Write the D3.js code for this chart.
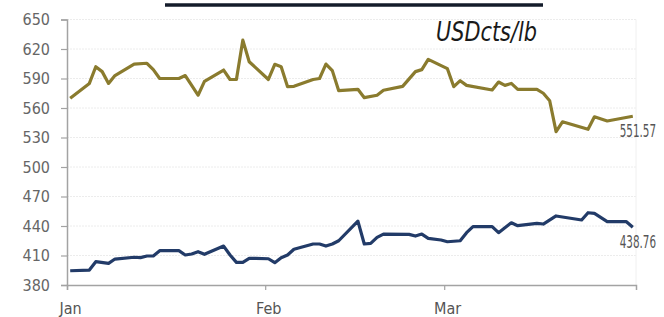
<!DOCTYPE html>
<html>
<head>
<meta charset="utf-8">
<script src="https://cdn.jsdelivr.net/npm/d3@7"></script>
<style>
  body { margin: 0; background: #fff; }
  svg { display: block; }
  text { font-family: "Liberation Sans Narrow", "DejaVu Sans Condensed", sans-serif; }
</style>
</head>
<body>
<svg></svg>
<script>
const WIDTH = 664;
const HEIGHT = 317;

// price series, one point per day (noon stamps)
const upperDates = ['01-01','01-04','01-05','01-06','01-07','01-08','01-11','01-13','01-14','01-15',
  '01-18','01-19','01-20','01-21','01-22','01-25','01-26','01-27','01-28','01-29','01-30',
  '02-01','02-02','02-03','02-04','02-05','02-08','02-09','02-10','02-11','02-12','02-15',
  '02-16','02-18','02-19','02-22','02-24','02-25','02-26','03-01','03-02','03-03','03-04',
  '03-08','03-09','03-10','03-11','03-12','03-15','03-16','03-17','03-18','03-19','03-23',
  '03-24','03-26','03-30'];
const upperValues = [570,585,602,597,585,593,604.7,605.5,599,590,
  590,593,583,573,587,598.6,589,589,629,607,601,
  589,604.4,602,581.7,582,589,590,604.7,598,577.6,579,
  570.5,573,578,582,597,599,609.5,600,581.7,587.8,583,
  578.3,586.4,583,585,579,579,575,567.4,536,546,538.3,
  551,546.8,551.57];

const lowerDates = ['01-01','01-04','01-05','01-07','01-08','01-11','01-12','01-13','01-14','01-15',
  '01-18','01-19','01-20','01-21','01-22','01-25','01-26','01-27','01-28','01-29','01-30',
  '02-01','02-02','02-03','02-04','02-05','02-08','02-09','02-10','02-11','02-12','02-15',
  '02-16','02-17','02-18','02-19','02-23','02-24','02-25','02-26','02-28','03-01','03-03',
  '03-04','03-05','03-08','03-09','03-11','03-12','03-15','03-16','03-18','03-22','03-23',
  '03-24','03-26','03-29','03-30'];
const lowerValues = [394.5,395.2,403.7,402,406.4,408.2,407.8,409.5,409.5,414.9,
  414.9,410.5,411.5,413.9,411.2,419.6,410.5,403,403,407.1,407.1,
  406.7,402.7,407.8,410.5,416.3,421.7,421.7,419.6,421.7,425,445,
  421.7,422.4,428.5,431.8,431.5,429.8,431.8,427.5,425.8,424,425,
  433.2,439.3,439.3,433.2,443.3,440.3,442.7,442,450.2,446.1,453.5,
  452.8,444.4,444.4,438.76];

const yTicks = [380, 410, 440, 470, 500, 530, 560, 590, 620, 650];
const monthTicks = ['2025-01-01', '2025-02-01', '2025-03-01'];
const monthLabels = ['Jan', 'Feb', 'Mar'];
const unitLabel = 'USDcts/lb';

const parseDay = d3.timeParse('%Y-%m-%dT%H:%M');
const parseMonth = d3.timeParse('%Y-%m-%d');

function toPoints(dates, values) {
  return dates.map(function(d, i) {
    return { date: parseDay('2025-' + d + 'T12:00'), value: values[i] };
  });
}
const upper = toPoints(upperDates, upperValues);
const lower = toPoints(lowerDates, lowerValues);

const svg = d3.select('svg')
  .attr('width', WIDTH)
  .attr('height', HEIGHT);

const plotLeft = 67, plotRight = 636, plotTop = 19.5, plotBottom = 285;

const xScale = d3.scaleTime()
  .domain([parseMonth('2025-01-01'), parseMonth('2025-03-31')])
  .range([plotLeft, plotRight]);
const yScale = d3.scaleLinear()
  .domain([380, 650])
  .range([plotBottom, plotTop]);

// dark bar across the top
svg.append('line')
  .attr('x1', 165).attr('x2', 543)
  .attr('y1', 5).attr('y2', 5)
  .attr('stroke', '#141c2b')
  .attr('stroke-width', 3.5);

// horizontal grid
svg.append('g').selectAll('line')
  .data(yTicks.slice(1))
  .enter()
  .append('line')
  .attr('x1', plotLeft).attr('x2', plotRight)
  .attr('y1', function(d) { return yScale(d); })
  .attr('y2', function(d) { return yScale(d); })
  .attr('stroke', '#ececec')
  .attr('stroke-dasharray', '2,1');

// faint right edge
svg.append('line')
  .attr('x1', plotRight).attr('x2', plotRight)
  .attr('y1', plotTop).attr('y2', plotBottom)
  .attr('stroke', '#f0f0f0');

// left axis
const leftAxis = d3.axisLeft(yScale)
  .tickValues(yTicks)
  .tickSize(6)
  .tickPadding(11);
const gy = svg.append('g').attr('id', 'left-axis')
  .attr('transform', 'translate(' + plotLeft + ',0)')
  .call(leftAxis);
gy.select('.domain').attr('stroke', '#a3a3a3').attr('stroke-width', 1.5);
gy.selectAll('.tick line').attr('stroke', '#a3a3a3').attr('stroke-width', 1.2);
gy.selectAll('.tick text')
  .attr('fill', '#666')
  .style('font-size', '16px');

// bottom axis
const bottomAxis = d3.axisBottom(xScale)
  .tickValues(monthTicks.map(parseMonth))
  .tickSize(5)
  .tickFormat(function(d, i) { return monthLabels[i]; });
const gx = svg.append('g').attr('id', 'bottom-axis')
  .attr('transform', 'translate(0,' + plotBottom + ')')
  .call(bottomAxis);
gx.select('.domain').attr('stroke', '#a3a3a3').attr('stroke-width', 1.5);
gx.selectAll('.tick line').attr('stroke', '#a3a3a3').attr('stroke-width', 1.2);
gx.selectAll('.tick text')
  .attr('fill', '#555')
  .attr('dx', 3)
  .attr('y', 18)
  .style('font-size', '16px');

// lines
const line = d3.line()
  .x(function(d) { return xScale(d.date); })
  .y(function(d) { return yScale(d.value); });

svg.append('path')
  .datum(upper)
  .attr('d', line)
  .attr('fill', 'none')
  .attr('stroke', '#8a7b2e')
  .attr('stroke-width', 3.2)
  .attr('stroke-linejoin', 'round');

svg.append('path')
  .datum(lower)
  .attr('d', line)
  .attr('fill', 'none')
  .attr('stroke', '#223b68')
  .attr('stroke-width', 3.2)
  .attr('stroke-linejoin', 'round');

// last value labels, squeezed horizontally like the narrow face in the original
[upper, lower].forEach(function(series) {
  const last = series[series.length - 1];
  svg.append('text')
    .attr('transform', 'translate(656,' + (yScale(last.value) + 21) + ') scale(0.68,1)')
    .attr('text-anchor', 'end')
    .attr('fill', '#555')
    .style('font-size', '17px')
    .text(d3.format('.2f')(last.value));
});

// unit
svg.append('text')
  .attr('x', 436)
  .attr('y', 41)
  .attr('fill', '#1a1a1a')
  .attr('textLength', 101)
  .attr('lengthAdjust', 'spacingAndGlyphs')
  .style('font-size', '26px')
  .style('font-style', 'italic')
  .text(unitLabel);
</script>
</body>
</html>
